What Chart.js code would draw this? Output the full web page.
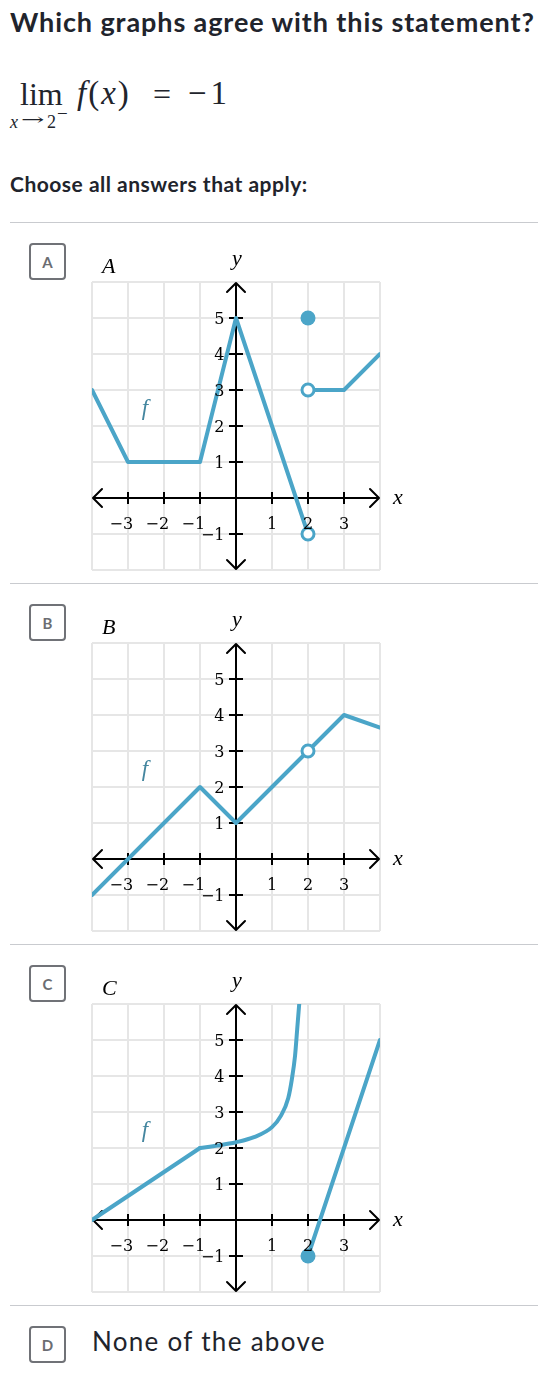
<!DOCTYPE html>
<html>
<head>
<meta charset="utf-8">
<script src="https://cdn.jsdelivr.net/npm/chart.js@4.4.1/dist/chart.umd.min.js"></script>
<style>
  body { margin: 0; width: 538px; height: 1374px; background: #fff; position: relative; overflow: hidden; color: #21242c; }
  .abs { position: absolute; white-space: nowrap; }
  .sans { font-family: Lato, sans-serif; line-height: 1.2; }
  .serif { font-family: 'Liberation Serif', serif; line-height: 1; }
  .rule { position: absolute; left: 10px; width: 528px; height: 1px; background: #c9cbcf; }
  .box { position: absolute; left: 29px; width: 33px; height: 33px; border: 2px solid #707277; border-radius: 4px;
         font: bold 15px Lato, sans-serif; color: #6b6d72; display: flex; align-items: center; justify-content: center; }
  canvas { position: absolute; left: 0; }
</style>
</head>
<body>
<div class="abs sans" style="left:10px; top:6.4px; font-size:27px; font-weight:bold; letter-spacing:0.9px;">Which graphs agree with this statement?</div>

<div class="abs serif" style="left:20px; top:78px; font-size:32px;">lim</div>
<div class="abs serif" style="left:77px; top:77px; font-size:33px; letter-spacing:2px;"><i>f</i>(<i>x</i>)</div>
<div class="abs serif" style="left:153px; top:78px; font-size:32px;">=</div>
<div class="abs serif" style="left:188px; top:77px; font-size:33px; letter-spacing:4px;">−1</div>
<div class="abs serif" style="left:10px; top:113.4px; font-size:18px;"><i>x</i></div>
<div class="abs" style="left:21px; top:112px; font:16px 'DejaVu Serif', serif; line-height:1; transform:scaleX(1.75); transform-origin:left;">→</div>
<div class="abs serif" style="left:47px; top:113.4px; font-size:18px;">2</div>
<div class="abs serif" style="left:57px; top:104px; font-size:19px;">−</div>

<div class="abs sans" style="left:10px; top:171px; font-size:21px; font-weight:bold; letter-spacing:0.5px;">Choose all answers that apply:</div>

<div class="rule" style="top:222px;"></div>
<div class="box" style="top:243px;">A</div>
<canvas id="graphA" width="538" height="345" style="top:237px;"></canvas>

<div class="rule" style="top:583px;"></div>
<div class="box" style="top:604px;">B</div>
<canvas id="graphB" width="538" height="345" style="top:598px;"></canvas>

<div class="rule" style="top:944px;"></div>
<div class="box" style="top:965px;">C</div>
<canvas id="graphC" width="538" height="345" style="top:959px;"></canvas>

<div class="rule" style="top:1305px;"></div>
<div class="box" style="top:1326px;">D</div>
<div class="abs sans" style="left:92px; top:1325.6px; font-size:26px; letter-spacing:1.3px;">None of the above</div>

<script>
const xTicks = [-3, -2, -1, 1, 2, 3];
const yTicks = [-1, 1, 2, 3, 4, 5];

// graph A
const aLeftX = [-4, -3, -1, 0, 2];
const aLeftY = [3, 1, 1, 5, -1];
const aRightX = [2, 3, 4];
const aRightY = [3, 3, 4];
const aOpenX = [2, 2];
const aOpenY = [-1, 3];
const aFilledX = [2];
const aFilledY = [5];

// graph B
const bLineX = [-4, -1, 0, 2, 3, 4];
const bLineY = [-1, 2, 1, 3, 4, 3.65];
const bOpenX = [2];
const bOpenY = [3];

// graph C
const cLineX = [-4, -1];
const cLineY = [0, 2];
const cCurveX = [-1, -0.5, 0, 0.5, 1, 1.25, 1.45, 1.55, 1.64, 1.7, 1.76];
const cCurveY = [2, 2.07, 2.16, 2.3, 2.58, 2.9, 3.38, 3.9, 4.56, 5.3, 6.05];
const cRightX = [2, 4];
const cRightY = [-1, 5];
const cFilledX = [2];
const cFilledY = [-1];

const BLUE = '#4ba5c8';
const SERIF = '"Liberation Serif", serif';
const DIGITS = '"DejaVu Serif", serif';

function pts(xs, ys) {
    return xs.map((x, i) => ({x: x, y: ys[i]}));
}

function lineSet(xs, ys, curved) {
    return {
        data: pts(xs, ys),
        showLine: true,
        borderColor: BLUE,
        borderWidth: 4,
        pointRadius: 0,
        tension: 0,
        cubicInterpolationMode: curved ? 'monotone' : 'default',
        borderCapStyle: 'round',
        borderJoinStyle: 'round'
    };
}

function openSet(xs, ys) {
    return {data: pts(xs, ys), showLine: false, pointRadius: 6, pointBorderWidth: 3,
            pointBackgroundColor: '#fff', pointBorderColor: BLUE};
}

function filledSet(xs, ys) {
    return {data: pts(xs, ys), showLine: false, pointRadius: 7.5, pointBorderWidth: 0,
            pointBackgroundColor: BLUE, pointBorderColor: BLUE};
}

// axes with arrows, ticks and the labels
const axesPlugin = {
    id: 'axes',
    beforeDatasetsDraw(chart) {
        const {ctx, chartArea: a} = chart;
        const x = chart.scales.x, y = chart.scales.y;
        const ox = x.getPixelForValue(0), oy = y.getPixelForValue(0);
        ctx.save();
        ctx.strokeStyle = '#000';
        ctx.lineWidth = 2;
        ctx.beginPath();
        ctx.moveTo(a.left + 1, oy); ctx.lineTo(a.right - 1, oy);
        ctx.moveTo(ox, a.top + 1); ctx.lineTo(ox, a.bottom - 1);
        xTicks.forEach(v => {
            const px = x.getPixelForValue(v);
            ctx.moveTo(px, oy - 6); ctx.lineTo(px, oy + 6);
        });
        yTicks.forEach(v => {
            const py = y.getPixelForValue(v);
            ctx.moveTo(ox - 7, py); ctx.lineTo(ox + 7, py);
        });
        ctx.stroke();
        const s = 9;
        ctx.lineJoin = 'round';
        ctx.lineCap = 'round';
        ctx.beginPath();
        ctx.moveTo(a.left + 1 + s, oy - s); ctx.lineTo(a.left + 1, oy); ctx.lineTo(a.left + 1 + s, oy + s);
        ctx.moveTo(a.right - 1 - s, oy - s); ctx.lineTo(a.right - 1, oy); ctx.lineTo(a.right - 1 - s, oy + s);
        ctx.moveTo(ox - s, a.top + 1 + s); ctx.lineTo(ox, a.top + 1); ctx.lineTo(ox + s, a.top + 1 + s);
        ctx.moveTo(ox - s, a.bottom - 1 - s); ctx.lineTo(ox, a.bottom - 1); ctx.lineTo(ox + s, a.bottom - 1 - s);
        ctx.stroke();
        ctx.restore();
    },
    afterDatasetsDraw(chart, args, opts) {
        const {ctx, chartArea: a} = chart;
        const x = chart.scales.x, y = chart.scales.y;
        const ox = x.getPixelForValue(0), oy = y.getPixelForValue(0);
        ctx.save();
        ctx.fillStyle = '#000';
        ctx.font = '16px ' + DIGITS;
        ctx.textBaseline = 'middle';
        ctx.textAlign = 'right';
        xTicks.forEach(v => {
            const digit = String(Math.abs(v));
            const w = ctx.measureText(digit).width;
            const txt = v < 0 ? '−' + digit : digit;
            ctx.fillText(txt, x.getPixelForValue(v) + w / 2, oy + 27);
        });
        yTicks.forEach(v => {
            const txt = v < 0 ? '−' + Math.abs(v) : String(v);
            ctx.fillText(txt, ox - 11.5, y.getPixelForValue(v) + 2);
        });
        ctx.textBaseline = 'alphabetic';
        ctx.textAlign = 'left';
        ctx.font = 'italic 22px ' + SERIF;
        ctx.fillText(opts.letter, 102, a.top - 9);
        ctx.textAlign = 'center';
        ctx.fillText('y', ox + 1, a.top - 17);
        ctx.textAlign = 'left';
        ctx.fillText('x', a.right + 13, oy + 6);
        ctx.fillStyle = '#44869f';
        ctx.font = 'italic 23px ' + SERIF;
        ctx.fillText('f', x.getPixelForValue(-2.62), y.getPixelForValue(2.3));
        ctx.restore();
    }
};

function makeGraph(elementId, letter, datasets) {
    var ctx = document.getElementById(elementId).getContext('2d');
    new Chart(ctx, {
        type: 'scatter',
        data: {datasets: datasets},
        options: {
            responsive: false,
            animation: false,
            events: [],
            layout: {padding: {left: 92, right: 158, top: 45, bottom: 12}},
            plugins: {legend: {display: false}, tooltip: {enabled: false}, axes: {letter: letter}},
            scales: {
                x: {type: 'linear', min: -4, max: 4,
                    ticks: {display: false, stepSize: 1},
                    grid: {color: '#e6e6e6', lineWidth: 2, drawTicks: false},
                    border: {display: false}},
                y: {type: 'linear', min: -2, max: 6,
                    ticks: {display: false, stepSize: 1},
                    grid: {color: '#e6e6e6', lineWidth: 2, drawTicks: false},
                    border: {display: false}}
            }
        },
        plugins: [axesPlugin]
    });
}

// points first so they sit on top of the lines
makeGraph('graphA', 'A', [
    openSet(aOpenX, aOpenY),
    filledSet(aFilledX, aFilledY),
    lineSet(aLeftX, aLeftY),
    lineSet(aRightX, aRightY)
]);

makeGraph('graphB', 'B', [
    openSet(bOpenX, bOpenY),
    lineSet(bLineX, bLineY)
]);

makeGraph('graphC', 'C', [
    filledSet(cFilledX, cFilledY),
    lineSet(cLineX, cLineY),
    lineSet(cCurveX, cCurveY, true),
    lineSet(cRightX, cRightY)
]);
</script>
</body>
</html>
